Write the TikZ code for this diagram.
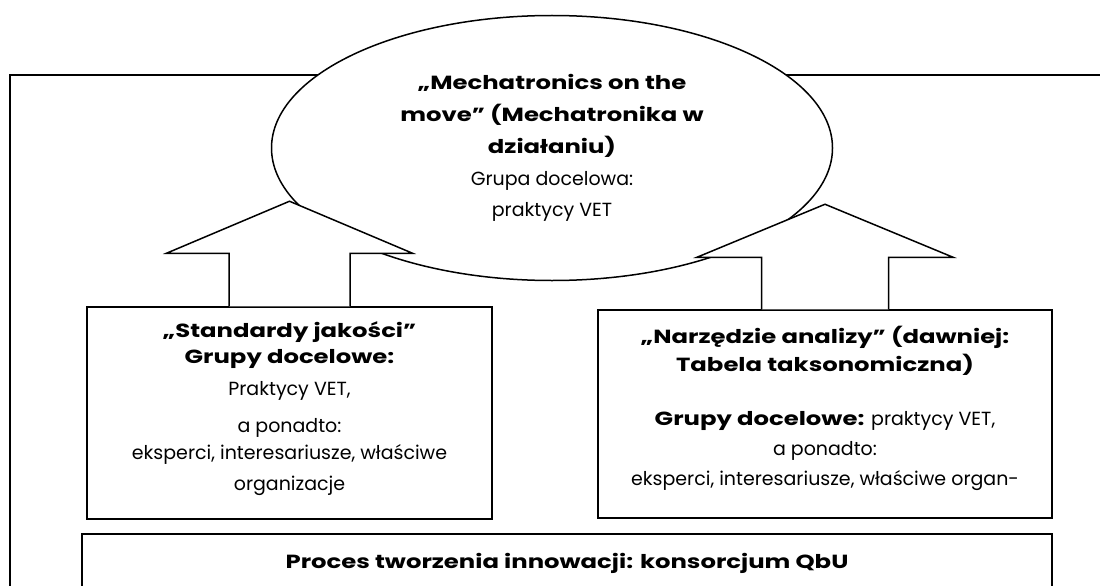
\documentclass[tikz,border=0pt]{standalone}
\usepackage{fontspec}
\setmainfont{Poppins}[BoldFeatures={FakeStretch=1.28}]
\usetikzlibrary{shapes.geometric}
\usetikzlibrary{calc}
\usetikzlibrary{positioning}

\begin{document}
\begin{tikzpicture}[x=1pt,y=-1pt,line width=1.5pt,
  box/.style={draw,fill=white,rectangle,inner sep=0pt,align=center,font=\fontsize{19}{30}\selectfont},
  bigarrow/.style={draw,fill=white,line join=miter}]
\useasboundingbox (0,0) rectangle (1100,586);
\clip (0,0) rectangle (1100,586);
\fill[white] (0,0) rectangle (1100,586);
% frame
\draw (10,75) rectangle (1130,640);
% ellipse
\node[draw,fill=white,ellipse,inner sep=0pt,minimum width=561pt,minimum height=265pt,align=center,font=\fontsize{19}{32}\selectfont] (mech) at (552,148)
  {\textbf{„Mechatronics on the}\\ \textbf{move” (Mechatronika w}\\ \textbf{działaniu)}\\ Grupa docelowa:\\[-1pt] praktycy VET};
% boxes
\node[box,minimum width=405pt,minimum height=212pt] (jakosc) at (289.5,413)
  {\mbox{}\\[-22pt]\textbf{„Standardy jakości”}\\[-4pt] \textbf{Grupy docelowe:}\\[2pt] Praktycy VET,\\[7pt] a ponadto:\\[-3pt] eksperci, interesariusze, właściwe\\[1pt] organizacje};
\node[box,minimum width=454pt,minimum height=208pt] (narzedzie) at (825,414)
  {\textbf{„Narzędzie analizy” (dawniej:}\\[-2pt] \textbf{Tabela taksonomiczna)}\\[24pt] \textbf{Grupy docelowe:} praktycy VET,\\ a ponadto:\\ eksperci, interesariusze, właściwe organ-\\[-14pt]\mbox{}};
\node[box,anchor=north,minimum width=970pt,minimum height=60pt] (proces) at (567,533)
  {\textbf{Proces tworzenia innowacji: konsorcjum QbU}};
% arrows up
\draw[bigarrow] ($(jakosc.north)+(-60.5,0)$) -- ++(0,-53) -- ++(-62.5,0)
  -- ($(jakosc.north)+(0,-105)$) -- ($(jakosc.north)+(123,-53)$)
  -- ++(-62.5,0) -- ($(jakosc.north)+(60.5,0)$);
\draw[bigarrow] ($(narzedzie.north)+(-63.5,0)$) -- ++(0,-52) -- ++(-64.5,0)
  -- ($(narzedzie.north)+(0,-105)$) -- ($(narzedzie.north)+(128,-52)$)
  -- ++(-64.5,0) -- ($(narzedzie.north)+(63.5,0)$);
\end{tikzpicture}
\end{document}
